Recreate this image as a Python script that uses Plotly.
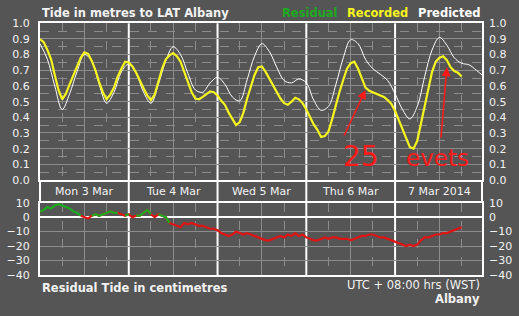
import pandas as pd
import plotly.graph_objects as go

# ---------------- data ----------------
start = "2014-03-03 00:00"
# predicted tide (m), every 2 hours from Mon 3 Mar 00:00
predicted = [0.87, 0.77, 0.60, 0.45, 0.55, 0.69, 0.80, 0.76, 0.61, 0.49,
             0.56, 0.69, 0.74, 0.68, 0.56, 0.49, 0.61, 0.76, 0.85, 0.80,
             0.68, 0.575, 0.56, 0.62, 0.655, 0.61, 0.53, 0.505, 0.64, 0.79,
             0.87, 0.82, 0.72, 0.635, 0.62, 0.645, 0.62, 0.51, 0.445, 0.47,
             0.61, 0.78, 0.895, 0.87, 0.77, 0.71, 0.675, 0.635, 0.55, 0.45,
             0.39, 0.47, 0.66, 0.83, 0.91, 0.86, 0.78, 0.745, 0.735, 0.70,
             0.66]
# recorded tide (m), hourly from Mon 3 Mar 00:00
recorded = [0.90, 0.88, 0.83, 0.77, 0.67, 0.575, 0.515, 0.55, 0.61, 0.67,
            0.72, 0.78, 0.815, 0.805, 0.76, 0.70, 0.625, 0.56, 0.515, 0.545,
            0.59, 0.66, 0.71, 0.755, 0.75, 0.725, 0.685, 0.63, 0.585, 0.54,
            0.51, 0.545, 0.635, 0.71, 0.77, 0.795, 0.81, 0.79, 0.755, 0.69,
            0.62, 0.56, 0.52, 0.515, 0.53, 0.545, 0.565, 0.56, 0.54, 0.505,
            0.48, 0.43, 0.385, 0.35, 0.37, 0.43, 0.52, 0.60, 0.67, 0.72,
            0.725, 0.69, 0.645, 0.60, 0.565, 0.52, 0.49, 0.48, 0.50, 0.525,
            0.515, 0.49, 0.45, 0.40, 0.355, 0.32, 0.275, 0.28, 0.31, 0.39,
            0.48, 0.565, 0.64, 0.71, 0.745, 0.755, 0.71, 0.655, 0.59, 0.57,
            0.56, 0.55, 0.54, 0.53, 0.51, 0.485, 0.44, 0.38, 0.33, 0.27,
            0.21, 0.20, 0.25, 0.36, 0.47, 0.59, 0.69, 0.755, 0.78, 0.79,
            0.765, 0.72, 0.695, 0.685, 0.66]
# residual (cm), hourly from Mon 3 Mar 00:00
residual = [4, 5, 7, 6, 8, 9, 8, 7, 6, 4,
            3, 1, 0, -1, 1, 2, 1, 2, 3, 4,
            3, 3, 2, 1, 2, 0, 1, 1, 3, 5,
            2, 0, 2, 1, 0, -4, -5, -6, -7, -4,
            -5, -4, -5, -6, -6, -7, -8, -8, -9, -11,
            -12, -13, -12, -10, -11, -12, -11, -12, -13, -14,
            -15, -16, -16, -15, -14, -13, -14, -12, -13, -11,
            -13, -12, -14, -15, -16, -16, -15, -14, -15, -14,
            -14, -15, -15, -15, -16, -15, -14, -13, -13, -12,
            -12, -13, -14, -14, -15, -16, -17, -18, -19, -20,
            -19, -20, -19, -16, -14, -14, -13, -12, -12, -11,
            -11, -10, -9, -8, -7]
green_last_hour = 35          # residual shown green up to this hour
green_gap_hours = [12, 13, 22, 25, 31]
red_first_hour = 11

day_labels = ["Mon 3 Mar", "Tue 4 Mar", "Wed 5 Mar", "Thu 6 Mar", "7 Mar 2014"]
main_ticks = [0.0, 0.1, 0.2, 0.3, 0.4, 0.5, 0.6, 0.7, 0.8, 0.9, 1.0]
resid_ticks = [10, 0, -10, -20, -30, -40]

# ---------------- derived ----------------
t_pred = pd.date_range(start, periods=len(predicted), freq="2h")
t_rec = pd.date_range(start, periods=len(recorded), freq="h")
t_res = pd.date_range(start, periods=len(residual), freq="h")
green = [v if (i <= green_last_hour and i not in green_gap_hours) else None
         for i, v in enumerate(residual)]
red = [v if i >= red_first_hour else None for i, v in enumerate(residual)]
days = pd.date_range(start, periods=6, freq="D")
noons = [d + pd.Timedelta(hours=12) for d in days[:5]]
sixes = [d + pd.Timedelta(hours=h) for d in days[:5] for h in (6, 18)]

BG = "#555555"
GRID = "#8c8c8c"
TXT = "#f2f2f2"
FONT = "DejaVu Sans"
W, H = 519, 316

def px_x(p):
    return p / W

def px_y(p):
    return 1 - p / H

x_dom = [px_x(40), px_x(482)]
main_dom = [px_y(180), px_y(23.3)]
res_dom = [px_y(275), px_y(202.7)]
xrange = [pd.Timestamp(start), pd.Timestamp("2014-03-07 23:30")]

fig = go.Figure()
fig.add_trace(go.Scatter(x=t_pred, y=predicted, mode="lines", line=dict(color="white", width=1, shape="spline"),
                         xaxis="x", yaxis="y", showlegend=False, hoverinfo="skip"))
fig.add_trace(go.Scatter(x=t_rec, y=recorded, mode="lines", line=dict(color="#f5f51e", width=2.2),
                         xaxis="x", yaxis="y3", showlegend=False, hoverinfo="skip"))
fig.add_trace(go.Scatter(x=t_res, y=red, mode="lines", line=dict(color="#e01414", width=2.2),
                         xaxis="x2", yaxis="y2", showlegend=False, hoverinfo="skip"))
fig.add_trace(go.Scatter(x=t_res, y=green, mode="lines", line=dict(color="#1eaa1e", width=2.2),
                         xaxis="x2", yaxis="y4", showlegend=False, hoverinfo="skip"))

xcommon = dict(domain=x_dom, range=xrange, type="date", tickmode="array", tickvals=noons,
               showticklabels=False, ticks="", showgrid=True, gridcolor=GRID, gridwidth=1,
               minor=dict(tickmode="array", tickvals=sixes, showgrid=True, gridcolor=GRID,
                          griddash="dash", gridwidth=1, ticks=""),
               showline=True, linecolor="white", linewidth=2, mirror=True, zeroline=False,
               automargin=False)
tickfont = dict(family=FONT, size=11, color=TXT)

fig.update_layout(
    template="none",
    width=W, height=H, autosize=False,
    margin=dict(l=0, r=0, t=0, b=0, pad=0),
    paper_bgcolor=BG, plot_bgcolor="rgba(0,0,0,0)",
    xaxis=dict(anchor="y", **xcommon),
    xaxis2=dict(anchor="y2", matches="x", **xcommon),
    yaxis=dict(domain=main_dom, range=[0, 1], tickmode="array", tickvals=main_ticks,
               tickformat=".1f", tickfont=tickfont, ticks="", ticklabelstandoff=6,
               showgrid=True, gridcolor=GRID, gridwidth=1, automargin=False,
               minor=dict(dtick=0.05, showgrid=True, gridcolor=GRID, griddash="dash", ticks=""),
               showline=True, linecolor="white", linewidth=2, mirror=True, zeroline=False),
    yaxis3=dict(overlaying="y", side="right", anchor="x", range=[0, 1], tickmode="array",
                tickvals=main_ticks, tickformat=".1f", tickfont=tickfont, ticks="",
                ticklabelstandoff=6, showgrid=False, zeroline=False, showline=False,
                automargin=False),
    yaxis2=dict(domain=res_dom, range=[-40, 10], tickmode="array", tickvals=resid_ticks,
                tickfont=tickfont, ticks="", ticklabelstandoff=6, automargin=False,
                showgrid=True, gridcolor=GRID, gridwidth=1,
                zeroline=True, zerolinecolor="white", zerolinewidth=2,
                showline=True, linecolor="white", linewidth=2, mirror=True),
    yaxis4=dict(overlaying="y2", side="right", anchor="x2", range=[-40, 10], tickmode="array",
                tickvals=resid_ticks, tickfont=tickfont, ticks="", ticklabelstandoff=6,
                showgrid=False, zeroline=False, showline=False, automargin=False),
)

# midnight day boundaries (white) across main, day band and residual panels
shapes = []
for d in days[1:5]:
    shapes.append(dict(type="line", xref="x", yref="paper", x0=d, x1=d,
                       y0=res_dom[0], y1=main_dom[1], line=dict(color="white", width=2),
                       layer="below"))
for xd in (0, 1):
    shapes.append(dict(type="line", xref="x domain", yref="paper", x0=xd, x1=xd,
                       y0=res_dom[1], y1=main_dom[0], line=dict(color="white", width=2),
                       layer="below"))
fig.update_layout(shapes=shapes)

ann = []
for lab, n in zip(day_labels, noons):
    ann.append(dict(text=lab, x=n, xref="x", y=px_y(191), yref="paper", showarrow=False,
                    xanchor="center", yanchor="middle", font=dict(family=FONT, size=11, color=TXT)))

bold = dict(family=FONT, size=11.5)
ann += [
    dict(text="<b>Tide in metres to LAT Albany</b>", x=px_x(40), y=px_y(13), xanchor="left",
         font=dict(color=TXT, **bold)),
    dict(text="<b>Residual</b>", x=px_x(340), y=px_y(13), xanchor="right",
         font=dict(color="#1eaa1e", **bold)),
    dict(text="<b>Recorded</b>", x=px_x(410), y=px_y(13), xanchor="right",
         font=dict(color="#f5f51e", **bold)),
    dict(text="<b>Predicted</b>", x=px_x(482), y=px_y(13), xanchor="right",
         font=dict(color="white", **bold)),
    dict(text="<b>Residual Tide in centimetres</b>", x=px_x(40), y=px_y(288), xanchor="left",
         font=dict(color=TXT, **bold)),
    dict(text="UTC + 08:00 hrs (WST)", x=px_x(482), y=px_y(285), xanchor="right",
         font=dict(family=FONT, size=11.5, color=TXT)),
    dict(text="<b>Albany</b>", x=px_x(482), y=px_y(298.5), xanchor="right",
         font=dict(color=TXT, **bold)),
]
for a in ann[len(day_labels):]:
    a.update(xref="paper", yref="paper", yanchor="middle", showarrow=False)

# hand-drawn red notes
RED = "#ff1a1a"
ann += [
    dict(text="25", x=pd.Timestamp("2014-03-06 14:40"), y=0.15, xref="x", yref="y",
         showarrow=False, xanchor="center", yanchor="middle",
         font=dict(family=FONT, size=28, color=RED)),
    dict(text="evets", x=pd.Timestamp("2014-03-07 11:20"), y=0.14, xref="x", yref="y",
         showarrow=False, xanchor="center", yanchor="middle",
         font=dict(family=FONT, size=23, color=RED)),
    dict(text="", x=pd.Timestamp("2014-03-06 16:00"), y=0.574, xref="x", yref="y",
         showarrow=True, ax=-22, ay=47, arrowcolor=RED, arrowwidth=1.5, arrowhead=2, arrowsize=1.2),
    dict(text="", x=pd.Timestamp("2014-03-07 14:00"), y=0.72, xref="x", yref="y",
         showarrow=True, ax=-6, ay=72, arrowcolor=RED, arrowwidth=1.5, arrowhead=2, arrowsize=1.2),
]
fig.update_layout(annotations=ann)

fig.write_html("out.html")
